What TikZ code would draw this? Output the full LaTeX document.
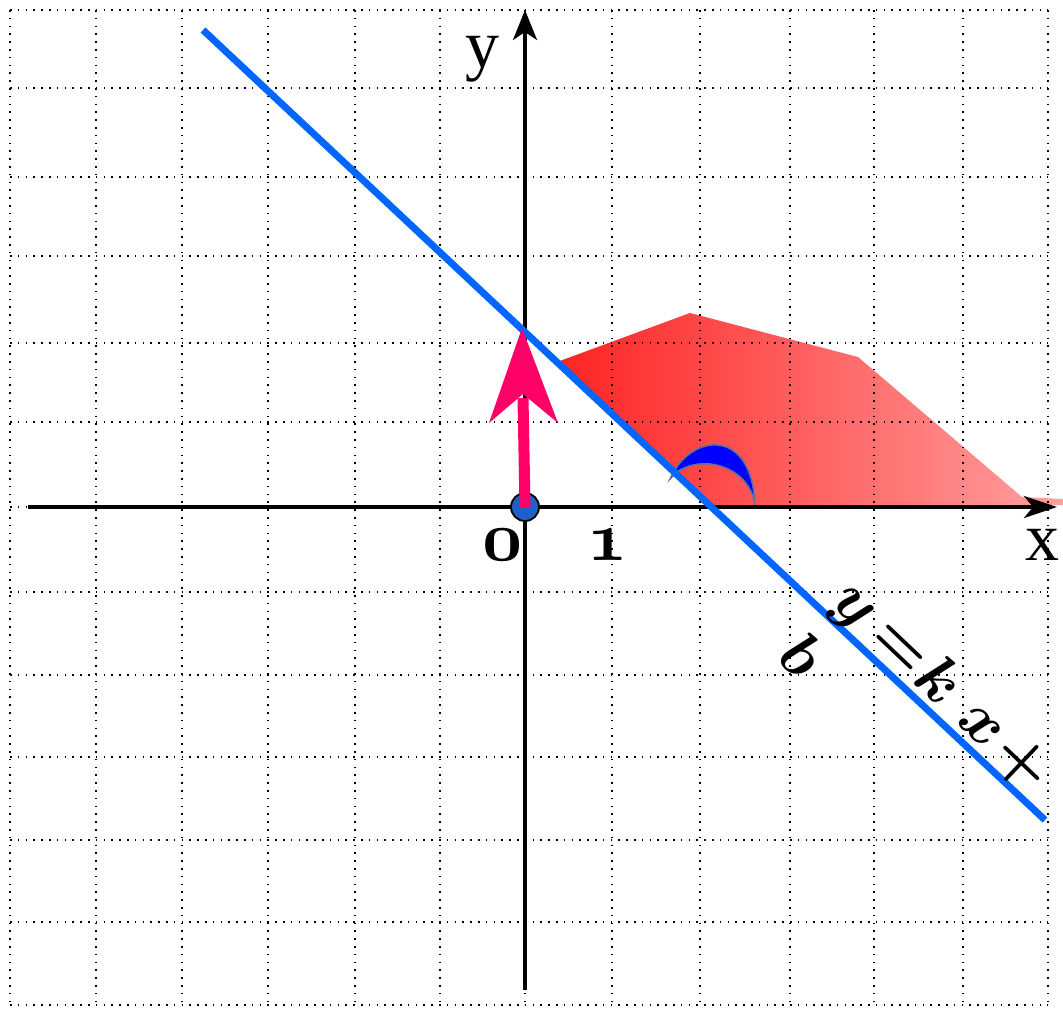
\documentclass[tikz,border=0pt]{standalone}
\usepackage{bm}
\usepackage{fontspec}
\newfontfamily\timesf{Liberation Serif}
\usetikzlibrary{arrows.meta}
\definecolor{lineblue}{RGB}{0,102,255}
\definecolor{arrowpink}{RGB}{255,0,102}
\definecolor{dotblue}{RGB}{30,96,200}
\definecolor{redA}{RGB}{255,35,35}
\definecolor{redB}{RGB}{255,95,95}
\definecolor{redC}{RGB}{255,160,160}
\definecolor{crescedge}{RGB}{95,115,150}
\begin{document}
\begin{tikzpicture}[x=1pt,y=-1pt,
  gridline/.style={line width=1.6pt, dash pattern=on 1.6pt off 6.2pt, black},
  axisline/.style={line width=3.5pt, black},
  biglabel/.style={font=\timesf\fontsize{68}{68}\selectfont, inner sep=0pt},
  numlabel/.style={font=\usefont{OML}{cmm}{b}{it}, scale=7, inner sep=0pt}]
\useasboundingbox (0,0) rectangle (1063,1009);
% shaded region
\shade[left color=redA, middle color=redB, right color=redC]
  (557,362) -- (690,313) -- (858,357) -- (1022,497) -- (1063,499) -- (1063,505) -- (712,505) -- cycle;
% grid
\foreach \gx in {10,96,182,268,355,440,525,612,700,790,874,963,1048}
  \draw[gridline] (\gx,10) -- (\gx,1005);
\foreach \gy in {10,88,177,256,343,422,507,592,675,757,840,922,1005}
  \draw[gridline] (10,\gy) -- (1048,\gy);
% crescent angle mark
\filldraw[fill=blue, draw=crescedge, line width=1.5pt]
  (670,479) .. controls (690,433) and (752,426) .. (755,505)
  .. controls (750,468) and (705,453) .. (677,472) -- cycle;
% axes
\coordinate (xs) at (28,507);
\coordinate (xe) at (1057,507);
\coordinate (ys) at (525,990);
\coordinate (ye) at (525,10);
\draw[axisline, -{Stealth[length=33pt,width=22pt,inset=9pt]}] (xs) -- (xe);
\draw[axisline, -{Stealth[length=30pt,width=24pt,inset=8pt]}] (ys) -- (ye);
% line y = kx + b
\coordinate (l1) at (203,30);
\coordinate (l2) at (1045,820);
\draw[line width=7pt, lineblue] (l1) -- (l2);
% origin dot
\node[circle, draw=black, line width=1.8pt, fill=dotblue, minimum size=28pt, inner sep=0pt] (O) at (525,507) {};
% pink arrow
\coordinate (ptip) at (522,328);
\coordinate (pneck) at (523,398);
\draw[line width=11pt, arrowpink] (O.center) -- (pneck);
\fill[arrowpink] (ptip) -- (558,423) -- (523,394) -- (489,423) -- cycle;
% labels
\node[biglabel] (ylab) at (482,59) {y};
\node[biglabel] (xlab) at (1042,545) {x};
\node[numlabel] (zero) at (503,545) {0};
\node[numlabel] (one) at (608,545) {1};
\node[rotate=-43.5, scale=6.3, align=left, inner sep=0pt, font=\fontsize{10}{12.35}\selectfont] (eq) at (918.6,711.2)
  {$\bm{y}\mkern4mu{\bm{=}}\mkern1mu\bm{k}\mkern6mu\bm{x}\mkern2mu{\bm{+}}$\\$\bm{b}$};
\end{tikzpicture}
\end{document}
